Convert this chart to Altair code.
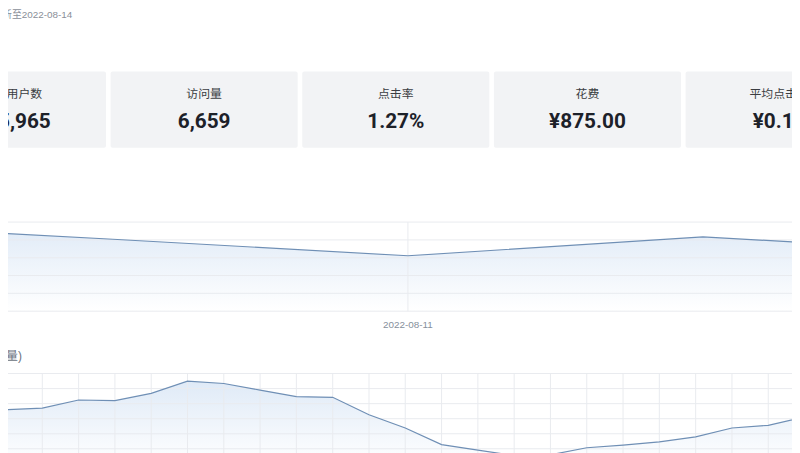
import altair as alt
import pandas as pd

# ---------------- data ----------------
update_text = ["数据更新至2022-08-14"]

kpi_labels = ["覆盖用户数", "访问量", "点击率", "花费", "平均点击价"]
kpi_values = ["115,965", "6,659", "1.27%", "¥875.00", "¥0.13"]

day_labels = ["2022-08-08", "2022-08-09", "2022-08-10", "2022-08-11",
              "2022-08-12", "2022-08-13", "2022-08-14"]
day_values = [930, 985, 807, 622, 833, 651, 700]
day_grid = [0, 200, 400, 600, 800, 1000]

hour_title = ["分时趋势(点击量)"]
hour_labels = [f"{h:02d}:00" for h in range(24)]
hour_values = [28.4, 35.9, 37.0, 42.4, 42.0, 46.8, 54.9, 53.4, 49.0, 44.7, 44.2, 32.6,
               23.8, 12.8, 9.1, 5.5, 6.0, 10.7, 12.4, 14.6, 17.9, 23.8, 25.6, 31.2]
hour_grid = [0, 10, 20, 30, 40, 50, 60]

# ---------------- tables ----------------
kpi_df = pd.DataFrame({"i": range(len(kpi_labels)), "label": kpi_labels, "value": kpi_values})
day_df = pd.DataFrame({"i": range(len(day_labels)), "day": day_labels, "v": day_values})
day_grid_df = pd.DataFrame({"g": day_grid})
hour_df = pd.DataFrame({"h": range(24), "hour": hour_labels, "v": hour_values})
hour_grid_df = pd.DataFrame({"g": hour_grid})

FONT = "Roboto, 'Noto Sans CJK SC', sans-serif"
FONT_SMALL = "'Liberation Sans', 'Noto Sans CJK SC', sans-serif"
LINE = "#6f8fb5"
GRID = "#e9ebef"

card_x = alt.Scale(domain=[0, 4], range=[12.5, 787])
day_x = alt.Scale(domain=[3, 4], range=[412, 710])
day_y = alt.Scale(domain=[0, 1000], range=[312, 222])
hour_x = alt.Scale(domain=[1, 22], range=[6, 776])
hour_y = alt.Scale(domain=[0, 60], range=[466.2, 375])

grad = alt.Gradient(
    gradient="linear",
    stops=[alt.GradientStop(color="#ffffff", offset=0),
           alt.GradientStop(color="#dfeaf7", offset=1)],
    x1=1, x2=1, y1=1, y2=0,
)

# header text
header = alt.Chart(pd.DataFrame({"t": update_text})).mark_text(
    align="right", baseline="middle", fontSize=10, color="#8a8f99", font=FONT_SMALL
).encode(x=alt.value(73), y=alt.value(13), text="t:N")

# KPI cards
cards = alt.Chart(kpi_df).transform_calculate(
    x0="datum.i - 0.488", x1="datum.i + 0.488"
).mark_rect(color="#f2f3f5", cornerRadius=2).encode(
    x=alt.X("x0:Q", scale=card_x, axis=None),
    x2="x1:Q",
    y=alt.value(70), y2=alt.value(147),
)
card_lab = alt.Chart(kpi_df).mark_text(
    fontSize=12, color="#3a3d42", font=FONT, baseline="middle"
).encode(x=alt.X("i:Q", scale=card_x, axis=None), y=alt.value(93), text="label:N")
card_val = alt.Chart(kpi_df).mark_text(
    fontSize=21, fontWeight="bold", color="#1d2129", font=FONT, baseline="middle"
).encode(x=alt.X("i:Q", scale=card_x, axis=None), y=alt.value(121), text="value:N")

# daily chart
d_area = alt.Chart(day_df).mark_area(color=grad).encode(
    x=alt.X("i:Q", scale=day_x, axis=None),
    y=alt.Y("v:Q", scale=day_y, axis=None),
    y2=alt.datum(0),
)
d_hgrid = alt.Chart(day_grid_df).mark_rule(color=GRID, strokeWidth=1).encode(
    y=alt.Y("g:Q", scale=day_y, axis=None), x=alt.value(-20), x2=alt.value(820)
)
d_vgrid = alt.Chart(day_df).transform_filter("datum.i % 3 == 0").mark_rule(
    color=GRID, strokeWidth=1
).encode(x=alt.X("i:Q", scale=day_x, axis=None), y=alt.value(222), y2=alt.value(312))
d_lab = alt.Chart(day_df).transform_filter("datum.i % 3 == 0").mark_text(
    fontSize=10, color="#86909c", font=FONT_SMALL, baseline="middle"
).encode(x=alt.X("i:Q", scale=day_x, axis=None), y=alt.value(326), text="day:N")
d_line = alt.Chart(day_df).mark_line(color=LINE, strokeWidth=1.2).encode(
    x=alt.X("i:Q", scale=day_x, axis=None),
    y=alt.Y("v:Q", scale=day_y, axis=None),
)

# hourly chart
h_title = alt.Chart(pd.DataFrame({"t": hour_title})).mark_text(
    align="right", baseline="middle", fontSize=12, color="#6b7280", font=FONT_SMALL
).encode(x=alt.value(22), y=alt.value(357), text="t:N")
h_area = alt.Chart(hour_df).mark_area(color=grad).encode(
    x=alt.X("h:Q", scale=hour_x, axis=None),
    y=alt.Y("v:Q", scale=hour_y, axis=None),
    y2=alt.datum(0),
)
h_hgrid = alt.Chart(hour_grid_df).mark_rule(color=GRID, strokeWidth=1).encode(
    y=alt.Y("g:Q", scale=hour_y, axis=None), x=alt.value(-20), x2=alt.value(820)
)
h_vgrid = alt.Chart(hour_df).mark_rule(color=GRID, strokeWidth=1).encode(
    x=alt.X("h:Q", scale=hour_x, axis=None), y=alt.value(375), y2=alt.value(470)
)
h_line = alt.Chart(hour_df).mark_line(color=LINE, strokeWidth=1.2).encode(
    x=alt.X("h:Q", scale=hour_x, axis=None),
    y=alt.Y("v:Q", scale=hour_y, axis=None),
)

chart = alt.layer(
    header, cards, card_lab, card_val,
    d_area, d_hgrid, d_vgrid, d_lab, d_line,
    h_title, h_area, h_hgrid, h_vgrid, h_line,
).resolve_scale(x="independent", y="independent").properties(
    width=800, height=453,
    autosize=alt.AutoSizeParams(type="none"),
    padding={"left": -8, "top": -8, "right": 0, "bottom": 0},
    background="#ffffff",
).configure_view(stroke=None)

chart.save("out.html", embed_options={"renderer": "svg", "actions": False})
